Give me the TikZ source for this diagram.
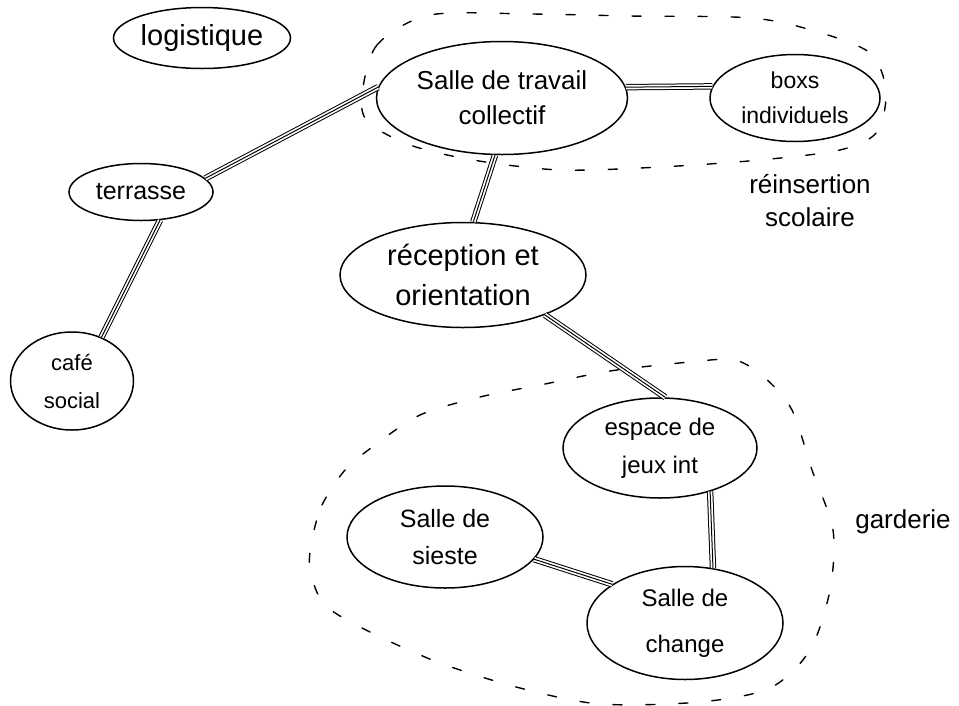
\documentclass[tikz,border=0pt]{standalone}
\usepackage{fontspec}
\setmainfont{Liberation Sans}
\usetikzlibrary{shapes.geometric}
\newcommand\tripl[2]{%
  \draw[line width=1pt, double=white, double distance=4.4pt] (#1) -- (#2);
  \draw[line width=1pt] (#1) -- (#2);}
\begin{document}
\begin{tikzpicture}[x=1pt,y=-1pt,
  room/.style={ellipse, draw, line width=1.5pt, inner sep=0pt, align=center},
  grp/.style={line width=1.4pt, dash pattern=on 9pt off 24pt, line cap=round},
  lbl/.style={align=center, inner sep=0pt},
  sz/.style 2 args={font=\fontsize{#1}{#2}\selectfont}]
\useasboundingbox[fill=white] (0,0) rectangle (959,705);

% groups
\draw[grp] plot[smooth cycle] coordinates {(362,95) (377,45) (430,15) (530,14) (630,16) (752,18) (818,32) (870,53) (886,90) (877,132) (840,150) (760,160) (660,167) (560,170) (473,160) (410,145) (368,122)};
\draw[grp] plot[smooth cycle] coordinates {(312,540) (322,505) (345,470) (375,445) (420,415) (480,397) (545,384) (610,371) (690,362) (735,360) (765,378) (792,410) (812,470) (833,530) (830,590) (810,650) (770,688) (700,702) (600,704) (520,688) (440,663) (370,632) (325,605) (310,570)};

% rooms
\node[room, sz={29}{35}, minimum width=177pt, minimum height=61pt] (logi) at (202,38) {logistique};
\node[room, sz={26}{35}, minimum width=251pt, minimum height=113pt] (salle) at (502,98) {Salle de travail\\collectif};
\node[room, sz={23}{35}, minimum width=170pt, minimum height=87pt] (boxs) at (795,98) {boxs\\individuels};
\node[room, sz={25}{30}, minimum width=144pt, minimum height=57pt] (terr) at (141,192) {terrasse};
\node[room, sz={29}{40}, minimum width=246pt, minimum height=105pt] (recep) at (463,275) {réception et\\orientation};
\node[room, sz={22}{38}, minimum width=123pt, minimum height=98pt] (cafe) at (72,381) {café\\social};
\node[room, sz={24}{38}, minimum width=194pt, minimum height=100pt] (jeux) at (660,448) {espace de\\jeux int};
\node[room, sz={25}{37}, minimum width=196pt, minimum height=102pt] (sieste) at (445,537) {Salle de\\sieste};
\node[room, sz={24}{46}, minimum width=196pt, minimum height=113pt] (change) at (685,623) {Salle de\\change};

% labels
\node[lbl, sz={26}{33}] (reins) at (810,201) {réinsertion\\scolaire};
\node[lbl, sz={26}{30}] (gard) at (903,522) {garderie};

% links
\tripl{terr.12}{salle.175}
\tripl{terr.304}{cafe.56}
\tripl{salle.5}{boxs.172}
\tripl{salle.263}{recep.79}
\tripl{recep.334}{jeux.84}
\tripl{jeux.319}{change.63}
\tripl{sieste.346}{change.152}
\end{tikzpicture}
\end{document}
